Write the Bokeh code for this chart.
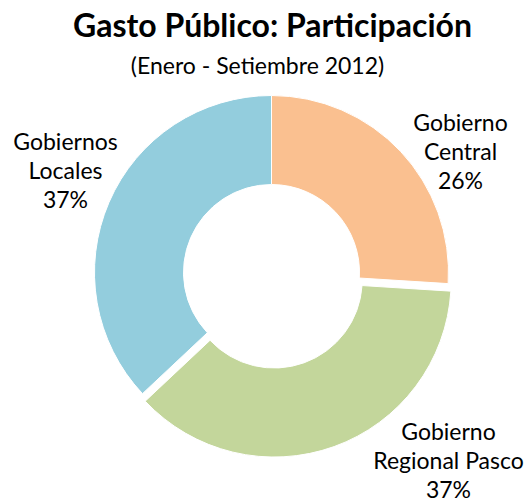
import math
from bokeh.plotting import figure
from bokeh.models import Range1d, ColumnDataSource
from bokeh.core.properties import value
from bokeh.embed import file_html
from bokeh.resources import INLINE

# ---- data ----
title_text = "Gasto Público: Participación"
subtitle_text = "(Enero - Setiembre 2012)"
categories = ["Gobierno\nCentral", "Gobierno\nRegional Pasco", "Gobiernos\nLocales"]
values = [26, 37, 37]
colors = ["#FAC090", "#C3D69B", "#93CDDD"]

# ---- layout ----
W, H = 524, 502
FONT = "Lato"
MID = 0.387  # baseline -> middle of text box, in em

def px(x):
    return x

def py(y):
    return H - y

p = figure(width=W, height=H, x_range=Range1d(0, W), y_range=Range1d(0, H),
           x_axis_type=None, y_axis_type=None, toolbar_location=None,
           output_backend="svg", min_border=0, outline_line_color=None,
           background_fill_color="white", border_fill_color="white")
p.grid.visible = False

cx, cy = px(271), py(272)
R_out, R_in = 177, 88
explode = [0, 8, 0]

total = sum(values)
cum = 0
xs, ys, starts, ends = [], [], [], []
for v, ex in zip(values, explode):
    a_end = math.radians(90 - cum / total * 360)
    cum += v
    a_start = math.radians(90 - cum / total * 360)
    mid = (a_start + a_end) / 2
    xs.append(cx + ex * math.cos(mid))
    ys.append(cy + ex * math.sin(mid))
    starts.append(a_start)
    ends.append(a_end)

src = ColumnDataSource(dict(x=xs, y=ys, s=starts, e=ends, c=colors))
p.annular_wedge(x="x", y="y", inner_radius=R_in, outer_radius=R_out,
                start_angle="s", end_angle="e", fill_color="c",
                line_color="white", line_width=1, source=src)

def label(x, baseline, txt, fs, bold=False):
    p.text(x=[px(x)], y=[py(baseline - MID * fs)], text=[txt],
           text_font=value(FONT), text_font_style="bold" if bold else "normal",
           text_font_size=f"{fs}px", text_align="center",
           text_baseline="middle", text_color="black")

label(272, 36, title_text, 32, bold=True)
label(257, 73, subtitle_text, 23)

# slice labels: (center x, first baseline, line gap) in picture coords
label_pos = [(460, 130, 29.3), (448, 439, 29.0), (65, 149, 29.3)]
for cat, v, (x0, y0, gap) in zip(categories, values, label_pos):
    lines = cat.split("\n") + [f"{v}%"]
    for i, ln in enumerate(lines):
        label(x0, y0 + i * gap, ln, 23)

open("out.html", "w").write(file_html(p, INLINE))
